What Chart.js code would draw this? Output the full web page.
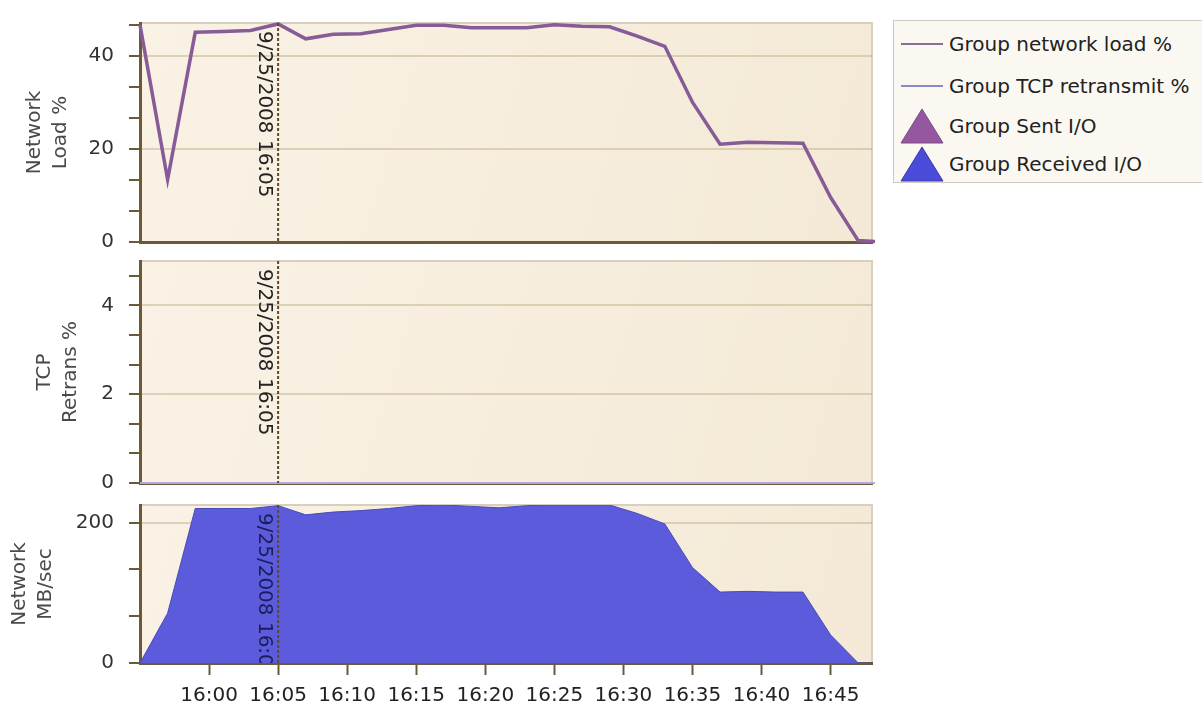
<!DOCTYPE html>
<html>
<head>
<meta charset="utf-8">
<script src="https://cdn.jsdelivr.net/npm/chart.js@4/dist/chart.umd.min.js"></script>
<style>
    body { margin: 0; width: 1202px; height: 708px; background: #fff; position: relative; overflow: hidden; font-family: "DejaVu Sans", sans-serif; }
    canvas { position: absolute; left: 0; }
    #legend { position: absolute; left: 893px; top: 20px; width: 330px; height: 161px; background: #fbf8f2; border: 1px solid #cfc9bf; }
    #legend .item { position: absolute; left: 0; height: 40px; display: flex; align-items: center; font-size: 20px; color: #222; white-space: nowrap; }
    #legend svg { width: 50px; height: 40px; margin-right: 5px; }
</style>
</head>
<body>
<canvas id="loadChart" width="880" height="250" style="top:0"></canvas>
<canvas id="tcpChart" width="880" height="240" style="top:250px"></canvas>
<canvas id="ioChart" width="880" height="218" style="top:490px"></canvas>
<div id="legend"></div>

<script>
// Sample times (every 2 minutes)
const times = ['15:55', '15:57', '15:59', '16:01', '16:03', '16:05', '16:07', '16:09', '16:11', '16:13',
    '16:15', '16:17', '16:19', '16:21', '16:23', '16:25', '16:27', '16:29', '16:31', '16:33',
    '16:35', '16:37', '16:39', '16:41', '16:43', '16:45', '16:47', '16:49'];

// Series values
const networkLoad = [46.6, 13.4, 45, 45.2, 45.4, 46.8, 43.6, 44.6, 44.7, 45.6,
    46.5, 46.5, 46, 46, 46, 46.6, 46.3, 46.2, 44.2, 42,
    30, 21, 21.4, 21.3, 21.2, 9.6, 0.3, 0];
const tcpRetransmit = [0, 0, 0, 0, 0, 0, 0, 0, 0, 0, 0, 0, 0, 0, 0, 0, 0, 0, 0, 0, 0, 0, 0, 0, 0, 0, 0, 0];
const sentIO = [0, 0, 0, 0, 0, 0, 0, 0, 0, 0, 0, 0, 0, 0, 0, 0, 0, 0, 0, 0, 0, 0, 0, 0, 0, 0, 0, 0];
const receivedIO = [0, 71, 220, 220, 220, 224, 211, 215, 217, 220,
    224, 225, 223, 221, 224, 225, 225, 225, 213, 198,
    136, 101, 102, 101, 101, 40, 0, 0];

// Axis ticks
const xTickLabels = ['16:00', '16:05', '16:10', '16:15', '16:20', '16:25', '16:30', '16:35', '16:40', '16:45'];
const xRange = ['15:55', '16:48'];
const loadTicks = [0, 20, 40];
const tcpTicks = [0, 2, 4];
const ioTicks = [0, 100, 200];

// Marker
const markerTime = '16:05';
const markerLabel = '9/25/2008 16:05';

const seriesNames = ['Group network load %', 'Group TCP retransmit %', 'Group Sent I/O', 'Group Received I/O'];

const axisColor = '#6b5a3a';
const fontFamily = '"DejaVu Sans", sans-serif';

function toMin(t) {
    const [h, m] = t.split(':').map(Number);
    return h * 60 + m;
}

function points(values) {
    return values.map((v, i) => ({ x: toMin(times[i]), y: v }));
}

// Three minor steps between each labelled tick
function withMinors(majors, max) {
    const step = (majors[1] - majors[0]) / 3;
    const out = [];
    for (let v = 0; v <= max + 1e-6; v += step) out.push({ value: v });
    return out;
}

function isMajor(majors, v) {
    return majors.some(m => Math.abs(m - v) < 1e-6);
}

// Background, frame and date marker
const panelPlugin = {
    id: 'panel',
    beforeDraw(chart) {
        const { ctx, chartArea: a } = chart;
        const g = ctx.createLinearGradient(a.left, a.top, a.right, a.bottom);
        g.addColorStop(0, '#f9f2e5');
        g.addColorStop(1, '#f4e9d6');
        ctx.save();
        ctx.fillStyle = g;
        ctx.fillRect(a.left, a.top, a.right - a.left, a.bottom - a.top);
        ctx.strokeStyle = '#d8cfbf';
        ctx.lineWidth = 2;
        ctx.beginPath();
        ctx.moveTo(a.left, a.top);
        ctx.lineTo(a.right, a.top);
        ctx.lineTo(a.right, a.bottom);
        ctx.stroke();
        ctx.restore();
    },
    afterDatasetsDraw(chart, args, opts) {
        const { ctx, chartArea: a } = chart;
        const x = chart.scales.x.getPixelForValue(toMin(markerTime));
        ctx.save();
        ctx.beginPath();
        ctx.rect(a.left, a.top, a.right - a.left, a.bottom - a.top);
        ctx.clip();
        ctx.strokeStyle = '#5c4a2a';
        ctx.lineWidth = 2;
        ctx.setLineDash([3, 2]);
        ctx.beginPath();
        ctx.moveTo(x, a.top);
        ctx.lineTo(x, a.bottom);
        ctx.stroke();
        ctx.setLineDash([]);
        ctx.translate(x - 14, a.top + 8);
        ctx.rotate(Math.PI / 2);
        ctx.font = '20px ' + fontFamily;
        ctx.fillStyle = opts.textColor || '#222';
        ctx.textBaseline = 'middle';
        ctx.textAlign = 'left';
        ctx.fillText(markerLabel, 0, 0);
        ctx.restore();
    }
};

function xScale(showLabels) {
    return {
        type: 'linear',
        min: toMin(xRange[0]),
        max: toMin(xRange[1]),
        afterBuildTicks: s => { s.ticks = showLabels ? xTickLabels.map(t => ({ value: toMin(t) })) : []; },
        afterFit: s => {
            s.height = showLabels ? 45 : 0;
            s.paddingLeft = 0;
            s.paddingRight = 0;
        },
        ticks: {
            display: showLabels,
            autoSkip: false,
            maxRotation: 0,
            padding: 9,
            color: '#222',
            font: { family: fontFamily, size: 20 },
            callback: v => xTickLabels.find(t => toMin(t) === v) || ''
        },
        grid: { display: showLabels, drawOnChartArea: false, tickLength: 12, tickWidth: 2, tickColor: axisColor },
        border: { display: true, color: axisColor, width: 3 }
    };
}

function yScale(majors, max, title, titlePad) {
    return {
        min: 0,
        max: max,
        afterBuildTicks: s => { s.ticks = withMinors(majors, max); },
        afterFit: s => {
            s.width = 140;
            s.paddingTop = 0;
            s.paddingBottom = 0;
        },
        title: {
            display: true,
            text: title,
            color: '#4a4a4a',
            padding: { top: titlePad, bottom: 0 },
            font: { family: fontFamily, size: 20, lineHeight: 1.3 }
        },
        ticks: {
            padding: 15,
            color: '#333',
            font: { family: fontFamily, size: 20 },
            callback: v => isMajor(majors, v) ? String(Math.round(v)) : ''
        },
        grid: {
            color: c => (c.tick && c.tick.value > 0 && isMajor(majors, c.tick.value)) ? 'rgba(196,176,136,0.5)' : 'rgba(0,0,0,0)',
            lineWidth: 2,
            tickLength: 11,
            tickWidth: 2,
            tickColor: axisColor
        },
        border: { display: true, color: axisColor, width: 3 }
    };
}

function baseOptions(padTop, padBottom, showLabels, yOpts, textColor) {
    return {
        responsive: false,
        animation: false,
        layout: { padding: { top: padTop, right: 8, bottom: padBottom, left: 0 } },
        plugins: { legend: { display: false }, tooltip: { enabled: false }, panel: { textColor: textColor } },
        elements: { point: { radius: 0 } },
        scales: { x: xScale(showLabels), y: yOpts }
    };
}

// Network load panel
new Chart(document.getElementById('loadChart'), {
    type: 'line',
    data: {
        datasets: [{
            label: seriesNames[0],
            data: points(networkLoad),
            borderColor: '#875b97',
            borderWidth: 3.5,
            tension: 0,
            clip: 3
        }]
    },
    options: baseOptions(23, 8, false, yScale(loadTicks, 47, ['Network', 'Load %'], 22)),
    plugins: [panelPlugin]
});

// TCP retransmit panel
new Chart(document.getElementById('tcpChart'), {
    type: 'line',
    data: {
        datasets: [{
            label: seriesNames[1],
            data: points(tcpRetransmit),
            borderColor: '#b4a6dc',
            borderWidth: 2,
            tension: 0,
            clip: 3
        }]
    },
    options: baseOptions(11, 7, false, yScale(tcpTicks, 5, ['TCP', 'Retrans %'], 32)),
    plugins: [panelPlugin]
});

// Network I/O panel
new Chart(document.getElementById('ioChart'), {
    type: 'line',
    data: {
        datasets: [{
            label: seriesNames[3],
            data: points(receivedIO),
            borderColor: '#4a4ab8',
            backgroundColor: '#5b5bdb',
            borderWidth: 1,
            fill: 'origin',
            tension: 0
        }, {
            label: seriesNames[2],
            data: points(sentIO),
            borderColor: '#94589e',
            backgroundColor: '#94589e',
            borderWidth: 0,
            fill: 'origin',
            tension: 0
        }]
    },
    options: baseOptions(15, 0, true, yScale(ioTicks, 225, ['Network', 'MB/sec'], 7), '#1c1c5c'),
    plugins: [panelPlugin]
});

// Legend
const legendSymbols = [
    '<svg viewBox="0 0 50 40"><line x1="7" y1="20" x2="49" y2="20" stroke="#8a7090" stroke-width="2"/></svg>',
    '<svg viewBox="0 0 50 40"><line x1="7" y1="20" x2="49" y2="20" stroke="#8a8ac8" stroke-width="2"/></svg>',
    '<svg viewBox="0 0 50 40"><polygon points="28,3 49,37 7,37" fill="#95579f" stroke="#7b4a86" stroke-width="1"/></svg>',
    '<svg viewBox="0 0 50 40"><polygon points="28,3 49,37 7,37" fill="#4b4bd9" stroke="#3b3bb0" stroke-width="1"/></svg>'
];
const legendTops = [3, 45, 85, 123];
const legend = document.getElementById('legend');
seriesNames.forEach((name, i) => {
    const item = document.createElement('div');
    item.className = 'item';
    item.style.top = legendTops[i] + 'px';
    item.innerHTML = legendSymbols[i] + '<span>' + name + '</span>';
    legend.appendChild(item);
});
</script>
</body>
</html>
